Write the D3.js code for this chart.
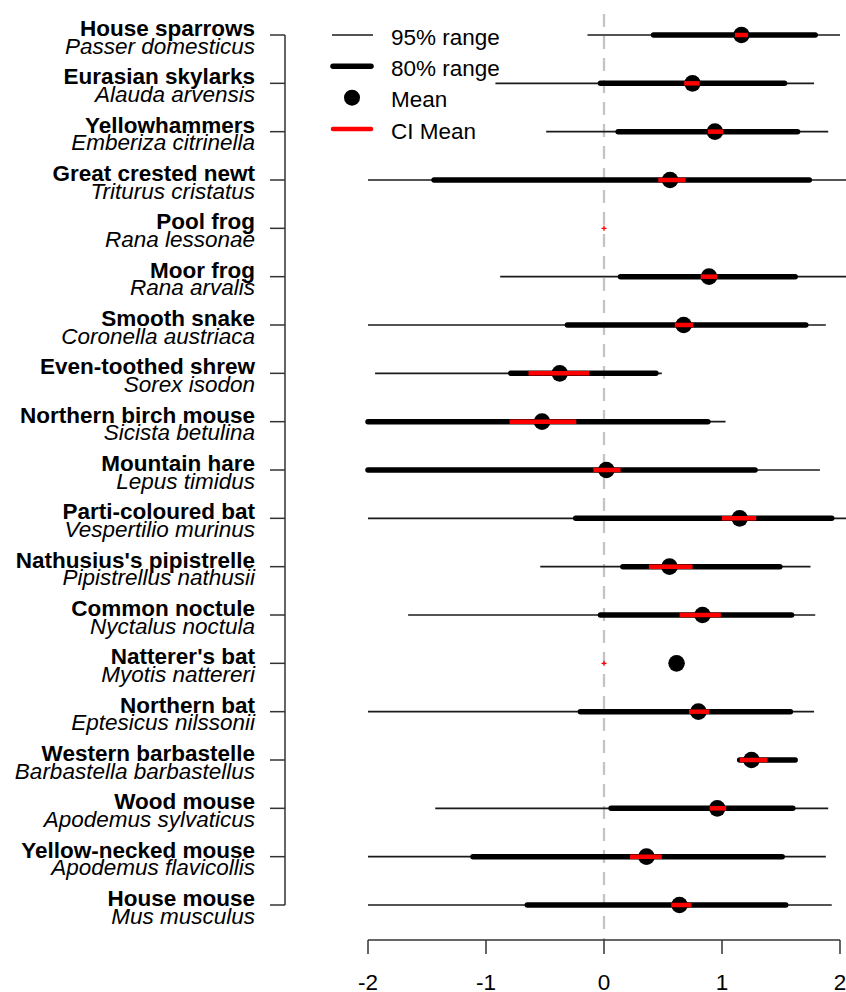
<!DOCTYPE html>
<html>
<head>
<meta charset="utf-8">
<script src="https://cdn.jsdelivr.net/npm/d3@7"></script>
<style>
  html, body { margin: 0; padding: 0; background: #fff; }
  svg { display: block; font-family: "Liberation Sans", Arial, sans-serif; }
</style>
</head>
<body>
<svg id="chart" width="846" height="992"></svg>
<script>
// Species, top to bottom
const commonNames = [
  "House sparrows", "Eurasian skylarks", "Yellowhammers", "Great crested newt",
  "Pool frog", "Moor frog", "Smooth snake", "Even-toothed shrew",
  "Northern birch mouse", "Mountain hare", "Parti-coloured bat",
  "Nathusius's pipistrelle", "Common noctule", "Natterer's bat", "Northern bat",
  "Western barbastelle", "Wood mouse", "Yellow-necked mouse", "House mouse"
];
const latinNames = [
  "Passer domesticus", "Alauda arvensis", "Emberiza citrinella", "Triturus cristatus",
  "Rana lessonae", "Rana arvalis", "Coronella austriaca", "Sorex isodon",
  "Sicista betulina", "Lepus timidus", "Vespertilio murinus",
  "Pipistrellus nathusii", "Nyctalus noctula", "Myotis nattereri", "Eptesicus nilssonii",
  "Barbastella barbastellus", "Apodemus sylvaticus", "Apodemus flavicollis", "Mus musculus"
];

// 95% range (null = not estimated)
const lo95 = [-0.14, -0.92, -0.49, -2.0, null, -0.88, -2.0, -1.94, -2.0, -2.0, -2.0, -0.54, -1.66, null, -2.0, 1.15, -1.43, -2.0, -2.0];
const hi95 = [ 2.00,  1.78,  1.90,  2.10, null,  2.10,  1.88,  0.49,  1.03,  1.83,  2.10,  1.75,  1.79, null,  1.78, 1.62,  1.90,  1.88,  1.93];
// 80% range
const lo80 = [ 0.42, -0.03,  0.12, -1.44, null,  0.14, -0.31, -0.79, -2.0, -2.0, -0.24,  0.16, -0.03, null, -0.20, 1.15,  0.06, -1.11, -0.65];
const hi80 = [ 1.79,  1.53,  1.64,  1.74, null,  1.62,  1.71,  0.44,  0.88,  1.28,  1.93,  1.49,  1.59, null,  1.58, 1.62,  1.60,  1.51,  1.54];
// Mean
const means = [1.165, 0.75, 0.94, 0.56, null, 0.89, 0.675, -0.375, -0.525, 0.02, 1.15, 0.555, 0.835, 0.615, 0.80, 1.25, 0.96, 0.36, 0.64];
// Confidence interval of the mean
const ciLo = [1.11, 0.68, 0.88, 0.46, 0, 0.82, 0.60, -0.64, -0.80, -0.09, 1.00, 0.38, 0.64, 0, 0.72, 1.15, 0.895, 0.22, 0.57];
const ciHi = [1.22, 0.81, 1.01, 0.69, 0, 0.96, 0.755, -0.125, -0.235, 0.14, 1.29, 0.75, 0.99, 0, 0.89, 1.385, 1.035, 0.49, 0.74];

const xTicks = [-2, -1, 0, 1, 2];

const legendItems = [
  { label: "95% range", kind: "thin" },
  { label: "80% range", kind: "thick" },
  { label: "Mean", kind: "dot" },
  { label: "CI Mean", kind: "ci" }
];

const svg = d3.select("#chart");
const FONT = 22.5;

const x = d3.scaleLinear().domain([-2, 2]).range([368, 840]);
const y = d3.scalePoint().domain(d3.range(commonNames.length)).range([35, 905]);

const rows = commonNames.map((c, i) => ({
  i, common: c, latin: latinNames[i],
  lo95: lo95[i], hi95: hi95[i], lo80: lo80[i], hi80: hi80[i],
  mean: means[i], ciLo: ciLo[i], ciHi: ciHi[i]
}));

// Zero reference line
svg.append("line")
  .attr("x1", x(0)).attr("x2", x(0))
  .attr("y1", 14).attr("y2", 940)
  .attr("stroke", "#c4c4c4").attr("stroke-width", 2.3)
  .attr("stroke-dasharray", "13,9");

// 95% ranges
svg.append("g").selectAll("line")
  .data(rows.filter(d => d.lo95 !== null))
  .join("line")
  .attr("x1", d => x(d.lo95)).attr("x2", d => x(d.hi95))
  .attr("y1", d => y(d.i)).attr("y2", d => y(d.i))
  .attr("stroke", "#1a1a1a").attr("stroke-width", 1.7);

// 80% ranges
svg.append("g").selectAll("line")
  .data(rows.filter(d => d.lo80 !== null))
  .join("line")
  .attr("x1", d => x(d.lo80)).attr("x2", d => x(d.hi80))
  .attr("y1", d => y(d.i)).attr("y2", d => y(d.i))
  .attr("stroke", "#000").attr("stroke-width", 5.5)
  .attr("stroke-linecap", "round");

// Means
svg.append("g").selectAll("circle")
  .data(rows.filter(d => d.mean !== null))
  .join("circle")
  .attr("cx", d => x(d.mean)).attr("cy", d => y(d.i))
  .attr("r", 8.3).attr("fill", "#000");

// CI of the mean
svg.append("g").selectAll("line")
  .data(rows.filter(d => d.ciHi > d.ciLo))
  .join("line")
  .attr("x1", d => x(d.ciLo)).attr("x2", d => x(d.ciHi))
  .attr("y1", d => y(d.i)).attr("y2", d => y(d.i))
  .attr("stroke", "#ff0000").attr("stroke-width", 4.5);

// Degenerate CI (zero width) shown as a small cross
svg.append("g").selectAll("path")
  .data(rows.filter(d => d.ciHi === d.ciLo))
  .join("path")
  .attr("transform", d => `translate(${x(d.ciLo)},${y(d.i)})`)
  .attr("d", "M-2.5,0H2.5M0,-2.5V2.5")
  .attr("stroke", "#ff0000").attr("stroke-width", 1.3);

// Bottom axis
const axisG = svg.append("g").attr("transform", "translate(0,940)");
axisG.append("line")
  .attr("x1", x(-2)).attr("x2", x(2))
  .attr("stroke", "#333").attr("stroke-width", 1.5);
axisG.selectAll("line.tick")
  .data(xTicks).join("line").attr("class", "tick")
  .attr("x1", d => x(d)).attr("x2", d => x(d))
  .attr("y1", 0).attr("y2", 14)
  .attr("stroke", "#333").attr("stroke-width", 1.5);
axisG.selectAll("text")
  .data(xTicks).join("text")
  .attr("x", d => x(d)).attr("y", 50)
  .attr("text-anchor", "middle")
  .attr("font-size", FONT).attr("fill", "#000")
  .text(d => d);

// Left axis (species)
const yAxis = svg.append("g");
yAxis.append("line")
  .attr("x1", 285).attr("x2", 285)
  .attr("y1", y(0)).attr("y2", y(commonNames.length - 1))
  .attr("stroke", "#333").attr("stroke-width", 1.5);
yAxis.selectAll("line.tick")
  .data(rows).join("line").attr("class", "tick")
  .attr("x1", 270).attr("x2", 285)
  .attr("y1", d => y(d.i)).attr("y2", d => y(d.i))
  .attr("stroke", "#333").attr("stroke-width", 1.5);

const labels = yAxis.selectAll("g.lab").data(rows).join("g").attr("class", "lab");
labels.append("text")
  .attr("x", 255).attr("y", d => y(d.i) + 1)
  .attr("text-anchor", "end").attr("font-weight", "bold")
  .attr("font-size", FONT).attr("fill", "#000")
  .text(d => d.common);
labels.append("text")
  .attr("x", 255).attr("y", d => y(d.i) + 18.7)
  .attr("text-anchor", "end").attr("font-style", "italic")
  .attr("font-size", FONT).attr("fill", "#000")
  .text(d => d.latin);

// Legend
const legend = svg.append("g");
const legY = d3.scalePoint().domain(d3.range(legendItems.length)).range([35, 129]);
legendItems.forEach((item, k) => {
  const yy = legY(k);
  const g = legend.append("g");
  if (item.kind === "thin") {
    g.append("line").attr("x1", 332).attr("x2", 373).attr("y1", yy).attr("y2", yy)
      .attr("stroke", "#1a1a1a").attr("stroke-width", 1.7);
  } else if (item.kind === "thick") {
    g.append("line").attr("x1", 333).attr("x2", 371).attr("y1", yy).attr("y2", yy)
      .attr("stroke", "#000").attr("stroke-width", 5.5).attr("stroke-linecap", "round");
  } else if (item.kind === "dot") {
    g.append("circle").attr("cx", 352).attr("cy", yy).attr("r", 8).attr("fill", "#000");
  } else {
    g.append("line").attr("x1", 333).attr("x2", 371).attr("y1", yy).attr("y2", yy)
      .attr("stroke", "#ff0000").attr("stroke-width", 4.5).attr("stroke-linecap", "round");
  }
  g.append("text").attr("x", 391).attr("y", yy + 9.5)
    .attr("font-size", FONT).attr("fill", "#000")
    .text(item.label);
});
</script>
</body>
</html>
